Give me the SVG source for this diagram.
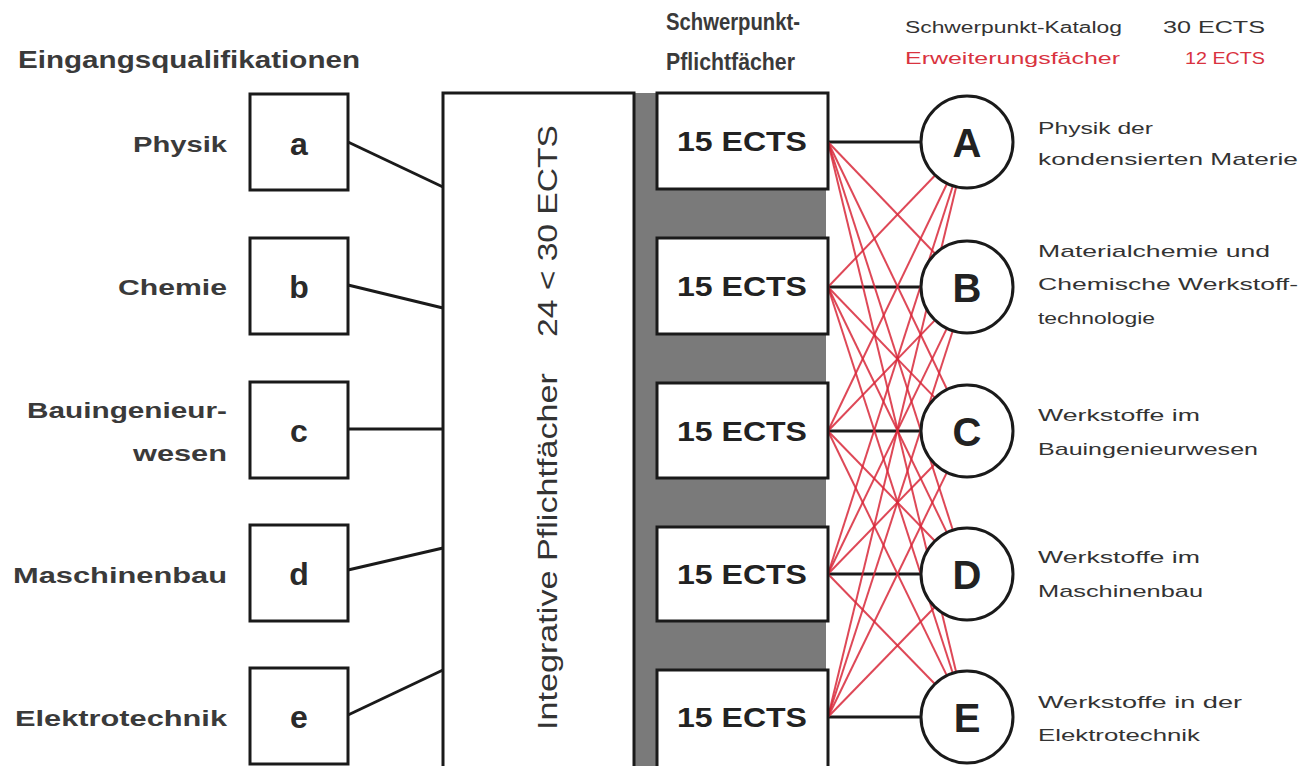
<svg xmlns="http://www.w3.org/2000/svg" width="1307" height="766" viewBox="0 0 1307 766">
<style>
.t{font-family:"Liberation Sans",Arial,sans-serif;fill:#333}
.hd{font-size:24px;font-weight:bold;fill:#3a3a3a}
.lb{font-size:22px;font-weight:bold;text-anchor:end;fill:#3a3a3a}
.box{fill:#fff;stroke:#1a1a1a;stroke-width:3}
.let{font-size:32px;font-weight:bold;text-anchor:middle;fill:#2a2a2a}
.ects{font-size:28px;font-weight:bold;text-anchor:middle;fill:#222}
.cir{fill:#fff;stroke:#1a1a1a;stroke-width:3}
.cl{font-size:40px;font-weight:bold;text-anchor:middle;fill:#222}
.rl{font-size:17px}
.blk{stroke:#1a1a1a;stroke-width:3;fill:none}
.red{stroke:#d8283a;stroke-width:2;stroke-opacity:0.85;fill:none}
.lg{font-size:16px}
</style>
<rect width="1307" height="766" fill="#fff"/>

<g id="headers">
<text class="t hd" x="18" y="68" textLength="342" lengthAdjust="spacingAndGlyphs">Eingangsqualifikationen</text>
<text class="t hd" x="666" y="30" textLength="134" lengthAdjust="spacingAndGlyphs">Schwerpunkt-</text>
<text class="t hd" x="666" y="70" textLength="129" lengthAdjust="spacingAndGlyphs">Pflichtfächer</text>
</g>

<g id="legend">
<text class="t lg" x="905" y="33" textLength="217" lengthAdjust="spacingAndGlyphs">Schwerpunkt-Katalog</text>
<text class="t lg" x="1163" y="33" textLength="102" lengthAdjust="spacingAndGlyphs">30 ECTS</text>
<text class="t lg" x="905" y="64" textLength="215" lengthAdjust="spacingAndGlyphs" style="fill:#d9333f">Erweiterungsfächer</text>
<text class="t lg" x="1185" y="64" textLength="80" lengthAdjust="spacingAndGlyphs" style="fill:#d9333f">12 ECTS</text>
</g>

<g id="schwerpunkt-bar">
<rect x="635" y="93" width="191" height="680" fill="#7a7a7a"/>
</g>

<g id="integrative">
<rect class="box" x="443" y="93" width="191" height="690"/>
<text class="t" style="font-size:27px" transform="translate(557,730) rotate(-90)" textLength="357" lengthAdjust="spacingAndGlyphs">Integrative Pflichtfächer</text>
<text class="t" style="font-size:27px" transform="translate(557,337) rotate(-90)" textLength="212" lengthAdjust="spacingAndGlyphs">24 &lt; 30 ECTS</text>
</g>

<g id="connectors">
<line class="blk" x1="348" y1="142" x2="443" y2="187"/>
<line class="blk" x1="348" y1="285" x2="443" y2="308"/>
<line class="blk" x1="348" y1="429" x2="443" y2="429"/>
<line class="blk" x1="348" y1="570" x2="443" y2="548"/>
<line class="blk" x1="348" y1="715" x2="443" y2="670"/>

<line class="blk" x1="828" y1="142" x2="921" y2="142"/>
<line class="blk" x1="828" y1="287" x2="921" y2="287"/>
<line class="blk" x1="828" y1="431" x2="921" y2="431"/>
<line class="blk" x1="828" y1="574" x2="921" y2="574"/>
<line class="blk" x1="828" y1="717" x2="921" y2="717"/>

<g id="red-links">
<line class="red" x1="828" y1="142" x2="935.2" y2="253.8"/>
<line class="red" x1="828" y1="142" x2="947.1" y2="389.5"/>
<line class="red" x1="828" y1="142" x2="952.9" y2="530.2"/>
<line class="red" x1="828" y1="142" x2="956.2" y2="672.3"/>
<line class="red" x1="828" y1="287" x2="935.2" y2="175.2"/>
<line class="red" x1="828" y1="287" x2="935" y2="397.9"/>
<line class="red" x1="828" y1="287" x2="946.9" y2="532.6"/>
<line class="red" x1="828" y1="287" x2="952.8" y2="673.2"/>
<line class="red" x1="828" y1="431" x2="947.1" y2="183.5"/>
<line class="red" x1="828" y1="431" x2="935" y2="320.1"/>
<line class="red" x1="828" y1="431" x2="934.9" y2="541"/>
<line class="red" x1="828" y1="431" x2="946.9" y2="675.6"/>
<line class="red" x1="828" y1="574" x2="952.9" y2="185.8"/>
<line class="red" x1="828" y1="574" x2="946.9" y2="328.4"/>
<line class="red" x1="828" y1="574" x2="934.9" y2="464"/>
<line class="red" x1="828" y1="574" x2="934.9" y2="684"/>
<line class="red" x1="828" y1="717" x2="956.2" y2="186.7"/>
<line class="red" x1="828" y1="717" x2="952.8" y2="330.8"/>
<line class="red" x1="828" y1="717" x2="946.9" y2="472.4"/>
<line class="red" x1="828" y1="717" x2="934.9" y2="607"/>
</g>
</g>

<g id="in-a">
<text class="t lb" x="227" y="152" textLength="94" lengthAdjust="spacingAndGlyphs">Physik</text>
<rect class="box" x="250" y="94" width="98" height="96"/>
<text class="t let" x="299" y="155">a</text>
</g>
<g id="in-b">
<text class="t lb" x="227" y="295" textLength="109" lengthAdjust="spacingAndGlyphs">Chemie</text>
<rect class="box" x="250" y="238" width="98" height="96"/>
<text class="t let" x="299" y="298">b</text>
</g>
<g id="in-c">
<text class="t lb" x="227" y="418" textLength="200" lengthAdjust="spacingAndGlyphs">Bauingenieur-</text>
<text class="t lb" x="227" y="461" textLength="94" lengthAdjust="spacingAndGlyphs">wesen</text>
<rect class="box" x="250" y="382" width="98" height="96"/>
<text class="t let" x="299" y="442">c</text>
</g>
<g id="in-d">
<text class="t lb" x="227" y="583" textLength="214" lengthAdjust="spacingAndGlyphs">Maschinenbau</text>
<rect class="box" x="250" y="525" width="98" height="96"/>
<text class="t let" x="299" y="585">d</text>
</g>
<g id="in-e">
<text class="t lb" x="227" y="726" textLength="212" lengthAdjust="spacingAndGlyphs">Elektrotechnik</text>
<rect class="box" x="250" y="668" width="98" height="96"/>
<text class="t let" x="299" y="728">e</text>
</g>

<g id="sp-1">
<rect class="box" x="657" y="93" width="171" height="96"/>
<text class="t ects" x="742" y="151" textLength="130" lengthAdjust="spacingAndGlyphs">15 ECTS</text>
</g>
<g id="sp-2">
<rect class="box" x="657" y="238" width="171" height="96"/>
<text class="t ects" x="742" y="296" textLength="130" lengthAdjust="spacingAndGlyphs">15 ECTS</text>
</g>
<g id="sp-3">
<rect class="box" x="657" y="383" width="171" height="95"/>
<text class="t ects" x="742" y="441" textLength="130" lengthAdjust="spacingAndGlyphs">15 ECTS</text>
</g>
<g id="sp-4">
<rect class="box" x="657" y="527" width="171" height="94"/>
<text class="t ects" x="742" y="584" textLength="130" lengthAdjust="spacingAndGlyphs">15 ECTS</text>
</g>
<g id="sp-5">
<rect class="box" x="657" y="670" width="171" height="110"/>
<text class="t ects" x="742" y="727" textLength="130" lengthAdjust="spacingAndGlyphs">15 ECTS</text>
</g>

<g id="focus-A">
<circle class="cir" cx="967" cy="142" r="46"/>
<text class="t cl" x="967" y="157">A</text>
<text class="t rl" x="1038" y="134" textLength="115" lengthAdjust="spacingAndGlyphs">Physik der</text>
<text class="t rl" x="1038" y="165" textLength="260" lengthAdjust="spacingAndGlyphs">kondensierten Materie</text>
</g>
<g id="focus-B">
<circle class="cir" cx="967" cy="287" r="46"/>
<text class="t cl" x="967" y="302">B</text>
<text class="t rl" x="1038" y="257" textLength="232" lengthAdjust="spacingAndGlyphs">Materialchemie und</text>
<text class="t rl" x="1038" y="290" textLength="260" lengthAdjust="spacingAndGlyphs">Chemische Werkstoff-</text>
<text class="t rl" x="1038" y="324" textLength="117" lengthAdjust="spacingAndGlyphs">technologie</text>
</g>
<g id="focus-C">
<circle class="cir" cx="967" cy="431" r="46"/>
<text class="t cl" x="967" y="446">C</text>
<text class="t rl" x="1038" y="421" textLength="162" lengthAdjust="spacingAndGlyphs">Werkstoffe im</text>
<text class="t rl" x="1038" y="455" textLength="220" lengthAdjust="spacingAndGlyphs">Bauingenieurwesen</text>
</g>
<g id="focus-D">
<circle class="cir" cx="967" cy="574" r="46"/>
<text class="t cl" x="967" y="589">D</text>
<text class="t rl" x="1038" y="563" textLength="162" lengthAdjust="spacingAndGlyphs">Werkstoffe im</text>
<text class="t rl" x="1038" y="597" textLength="165" lengthAdjust="spacingAndGlyphs">Maschinenbau</text>
</g>
<g id="focus-E">
<circle class="cir" cx="967" cy="717" r="46"/>
<text class="t cl" x="967" y="732">E</text>
<text class="t rl" x="1038" y="708" textLength="204" lengthAdjust="spacingAndGlyphs">Werkstoffe in der</text>
<text class="t rl" x="1038" y="741" textLength="162" lengthAdjust="spacingAndGlyphs">Elektrotechnik</text>
</g>
</svg>
